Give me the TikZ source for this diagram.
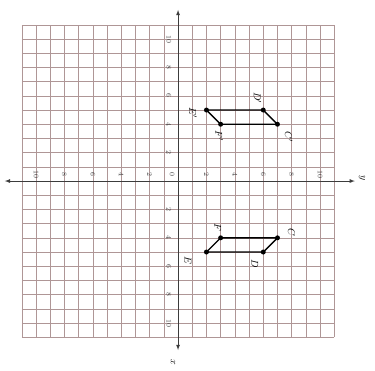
\documentclass[tikz,border=0pt]{standalone}
\usepackage{xcolor}
\usepackage{tikz}
\definecolor{gridpink}{RGB}{175,150,150}
\definecolor{axisgray}{RGB}{60,60,60}

\begin{document}
\begin{tikzpicture}[x=0.5cm, y=0.5cm,
    tick/.style={font=\scriptsize, text=axisgray, rotate=-90, inner sep=0.5pt},
    ptlabel/.style={font=\normalsize, rotate=-90, inner sep=1pt},
    dot/.style={fill=black, circle, inner sep=0pt, minimum size=5pt}]
    \useasboundingbox (-12.54,-13.31) rectangle (13.87,12.75);

    % Grid
    \draw[gridpink, line width=0.6pt, step=0.5cm] (-11,-11) grid (11,11);

    % Axes
    \draw[latex-latex, axisgray, line width=0.8pt] (-12.2,0) -- (12.45,0);
    \draw[latex-latex, axisgray, line width=0.8pt] (0,12.05) -- (0,-11.9);
    \node[ptlabel] (ylab) at (12.95,0.2) {$y$};
    \node[ptlabel] (xlab) at (-0.35,-12.75) {$x$};

    % Tick labels
    \node[tick] (t0) at (-0.42,0.45) {0};
    \foreach \n in {2,4,...,10} {
        \node[tick] (tr\n) at (\n,0.45) {\n};
        \node[tick] (tl\n) at (-\n,0.45) {\n};
        \node[tick] (tu\n) at (-0.65,\n) {\n};
        \node[tick] (td\n) at (-0.65,-\n) {\n};
    }

    % Image E'D'C'F'
    \node[dot] (ep) at (2,5) {};
    \node[dot] (dp) at (6,5) {};
    \node[dot] (cp) at (7,4) {};
    \node[dot] (fp) at (3,4) {};
    \draw[line width=1.4pt] (ep.center) -- (dp.center) -- (cp.center) -- (fp.center) -- cycle;
    \node[ptlabel] (eplab) at (1.05,4.8) {$E'$};
    \node[ptlabel] (dplab) at (5.6,5.85) {$D'$};
    \node[ptlabel] (cplab) at (7.8,3.1) {$C'$};
    \node[ptlabel] (fplab) at (2.9,3.2) {$F'$};

    % Figure CDEF
    \node[dot] (f) at (3,-4) {};
    \node[dot] (c) at (7,-4) {};
    \node[dot] (d) at (6,-5) {};
    \node[dot] (e) at (2,-5) {};
    \draw[line width=1.4pt] (f.center) -- (c.center) -- (d.center) -- (e.center) -- cycle;
    \node[ptlabel] (flab) at (2.8,-3.25) {$F$};
    \node[ptlabel] (clab) at (8.0,-3.65) {$C$};
    \node[ptlabel] (dlab) at (5.4,-5.8) {$D$};
    \node[ptlabel] (elab) at (0.7,-5.6) {$E$};
\end{tikzpicture}
\end{document}
